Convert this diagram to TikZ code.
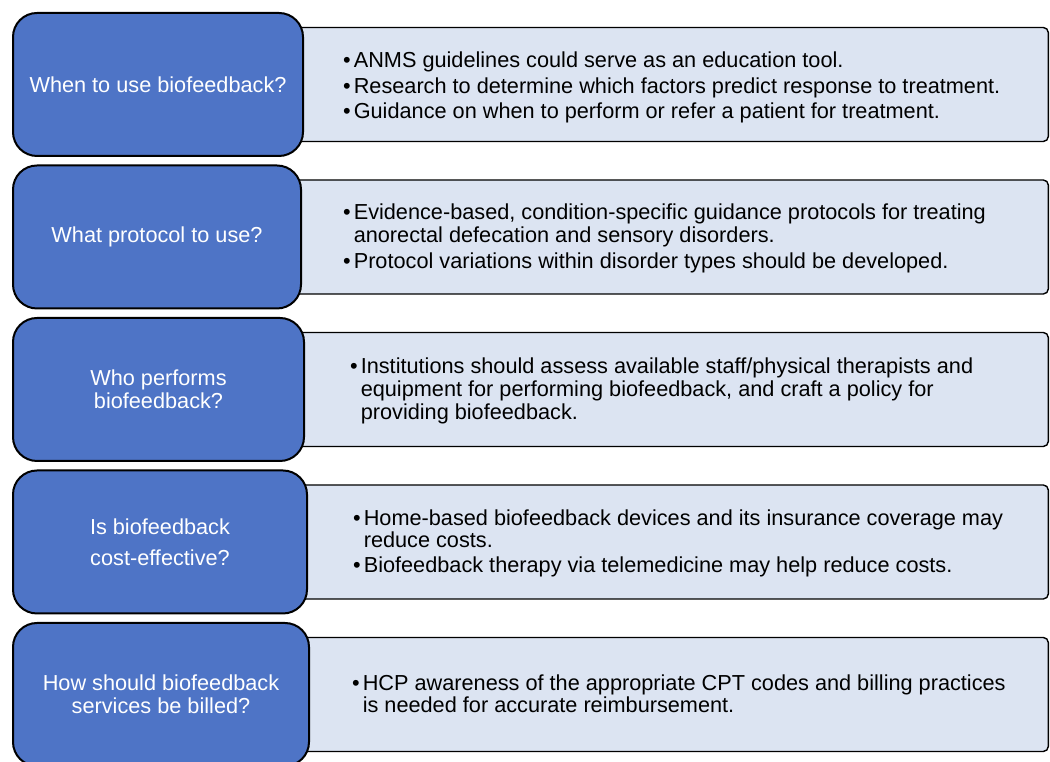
\documentclass[tikz,border=0pt]{standalone}
\usepackage{fontspec}
\setmainfont{Liberation Sans}
\usepackage{xcolor}
\usetikzlibrary{positioning,backgrounds}
\definecolor{qblue}{HTML}{4E74C6}
\definecolor{apale}{HTML}{DCE4F2}
\tikzset{
    %Define style for question boxes
    question/.style={
           rectangle,
           rounded corners=24pt,
           draw=black, line width=2pt,
           fill=qblue,
           minimum height=143pt,
           font=\fontsize{21.7pt}{23pt}\selectfont,
           text=white,
           align=center},
    %Define style for answer boxes
    answer/.style={
           rectangle,
           rounded corners=5pt,
           draw=black, line width=1.4pt,
           fill=apale,
           minimum width=760pt,
           minimum height=114pt,
           anchor=east},
    %Define style for bullet text
    points/.style={
           inner sep=0pt,
           yshift=-2.5pt,
           font=\fontsize{21.7pt}{22.7pt}\selectfont,
           anchor=west}
}

\begin{document}
\begin{tikzpicture}[node distance=7.5pt]
\useasboundingbox (0,0) rectangle (1050pt,762pt);

 %questions
\node[question, minimum width=290pt, anchor=north west] (q1) at (12pt,750pt) {When to use biofeedback?};
\node[question, minimum width=288pt, below=of q1.south west, anchor=north west] (q2) {What protocol to use?};
\node[question, minimum width=291pt, below=of q2.south west, anchor=north west] (q3) {Who performs\\biofeedback?};
\node[question, minimum width=294pt, below=of q3.south west, anchor=north west] (q4) {Is biofeedback\\[8pt]cost-effective?};
\node[question, minimum width=296pt, below=of q4.south west, anchor=north west] (q5) {How should biofeedback\\services be billed?};

 %bullet points
\node[points, right=39pt of q1, yshift=-1.5pt] (t1) {\begin{tabular}{@{}l@{\hspace{3pt}}l@{}}
\textbullet & ANMS guidelines could serve as an education tool.\\[2.5pt]
\textbullet & Research to determine which factors predict response to treatment.\\[2.5pt]
\textbullet & Guidance on when to perform or refer a patient for treatment.
\end{tabular}};
\node[points, right=41pt of q2] (t2) {\begin{tabular}{@{}l@{\hspace{3pt}}l@{}}
\textbullet & Evidence-based, condition-specific guidance protocols for treating\\
 & anorectal defecation and sensory disorders.\\[3pt]
\textbullet & Protocol variations within disorder types should be developed.
\end{tabular}};
\node[points, right=45pt of q3] (t3) {\begin{tabular}{@{}l@{\hspace{3pt}}l@{}}
\textbullet & Institutions should assess available staff/physical therapists and\\
 & equipment for performing biofeedback, and craft a policy for\\
 & providing biofeedback.
\end{tabular}};
\node[points, right=45pt of q4] (t4) {\begin{tabular}{@{}l@{\hspace{3pt}}l@{}}
\textbullet & Home-based biofeedback devices and its insurance coverage may\\
 & reduce costs.\\[2.5pt]
\textbullet & Biofeedback therapy via telemedicine may help reduce costs.
\end{tabular}};
\node[points, right=42pt of q5] (t5) {\begin{tabular}{@{}l@{\hspace{3pt}}l@{}}
\textbullet & HCP awareness of the appropriate CPT codes and billing practices\\
 & is needed for accurate reimbursement.
\end{tabular}};

 %answer boxes behind
\coordinate (edge) at (1049pt,0);
\begin{scope}[on background layer]
\node[answer] (a1) at (q1 -| edge) {};
\node[answer] (a2) at (q2 -| edge) {};
\node[answer] (a3) at (q3 -| edge) {};
\node[answer] (a4) at (q4 -| edge) {};
\node[answer] (a5) at (q5 -| edge) {};
\end{scope}
\end{tikzpicture}
\end{document}
